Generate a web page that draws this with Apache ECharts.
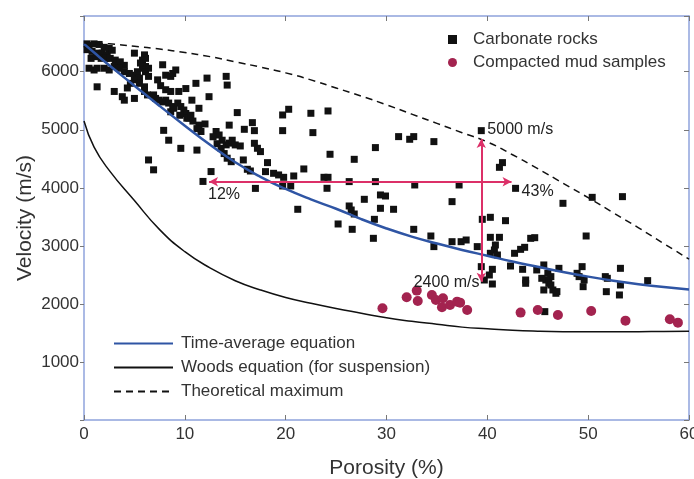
<!DOCTYPE html>
<html lang="en">
<head>
<meta charset="UTF-8">
<title>Velocity vs porosity</title>
<script src="https://cdn.jsdelivr.net/npm/echarts@6/dist/echarts.min.js"></script>
<style>html,body{margin:0;background:#fff;}</style>
</head>
<body>
<div id="main" style="width:694px;height:479px;"></div>
<script>
// carbonate rocks: [porosity %, velocity m/s]
var carbonateRocks = [
  [0.3,6480],[0.5,6450],[1.0,6480],[1.5,6470],[2.0,6420],[2.5,6400],[0.3,6380],[0.8,6350],
  [1.3,6320],[1.8,6320],[2.3,6290],[2.8,6370],[0.7,6230],[1.2,6260],[1.7,6230],[2.2,6230],
  [2.6,6230],[3.1,6200],[3.3,6150],[3.6,6170],[4.0,6110],[0.5,6060],[1.0,6030],[1.3,6060],
  [2.0,6060],[2.5,6030],[3.0,6090],[3.5,6060],[4.0,6000],[4.5,5970],[5.0,5940],[5.3,6000],
  [5.8,6060],[6.1,6090],[6.4,6060],[5.0,6320],[6.0,6290],[6.1,6230],[5.8,6200],[5.6,6150],
  [6.1,6000],[6.4,5920],[5.5,5890],[5.0,5860],[4.6,5800],[4.3,5720],[3.8,5570],[4.0,5510],
  [5.0,5540],[5.5,5800],[6.0,5740],[6.0,5660],[6.3,5600],[6.9,5600],[7.1,5540],[7.4,5510],
  [7.8,5480],[8.1,5510],[8.4,5460],[8.8,5400],[8.6,5310],[8.9,5370],[9.3,5460],[9.6,5400],
  [9.9,5340],[10.1,5280],[10.2,5200],[10.4,5200],[10.6,5250],[7.8,6120],[8.1,5940],[8.6,5920],
  [8.8,5970],[9.1,6030],[8.1,5690],[8.6,5660],[9.4,5660],[10.1,5710],[11.1,5800],[12.2,5890],
  [14.1,5920],[14.2,5770],[12.4,5570],[10.7,5510],[11.4,5370],[11.4,5080],[11.6,4970],[11.2,5020],
  [13.1,4970],[13.4,4910],[13.7,4820],[13.2,4760],[13.6,4680],[14.1,4740],[14.4,4770],[14.7,4820],
  [13.9,4590],[14.2,4510],[14.6,4450],[14.4,5080],[7.9,4990],[8.4,4820],[9.6,4680],[11.2,4650],
  [6.4,4480],[6.9,4310],[12.6,4280],[11.8,4110],[1.3,5740],[3.0,5660],[7.3,5860],[7.6,5760],
  [9.5,5250],[10.8,5150],[12.0,5100],[12.8,4880],
  [15.2,5296],[19.7,5255],[20.3,5353],[22.5,5284],[24.2,5324],[15.9,5008],[16.7,5123],[16.9,4985],
  [19.7,4985],[22.7,4951],[15.0,4739],[15.5,4721],[16.9,4767],[17.2,4681],[17.5,4624],[15.8,4480],
  [16.2,4319],[16.5,4290],[18.2,4434],[18.0,4279],[18.8,4250],[19.3,4222],[19.8,4181],[20.8,4204],
  [21.8,4325],[24.4,4578],[26.8,4491],[28.9,4693],[23.8,4181],[24.2,4181],[24.1,3992],[20.5,4032],
  [17.0,3990],[19.7,4032],[26.3,4107],[28.9,4107],[29.4,3877],[27.8,3802],[26.3,3687],[26.5,3618],
  [26.8,3549],[21.2,3630],[25.2,3377],[26.6,3285],[29.4,3647],[28.8,3457],[28.7,3130],
  [31.2,4882],[32.3,4836],[32.7,4882],[34.7,4796],[39.4,4985],[41.2,4353],[41.5,4434],[32.8,4049],
  [37.2,4049],[42.8,3991],[29.9,3859],[30.7,3630],[36.5,3762],[39.5,3457],[40.3,3492],[41.8,3434],
  [32.7,3285],[34.4,3170],[34.7,2987],[36.5,3072],[37.4,3072],[37.9,3101],[39.0,2987],[40.3,3147],
  [41.2,3147],[40.8,3015],[40.7,2929],[40.3,2872],[41.0,2843],[42.7,2872],[43.3,2940],[43.7,2975],
  [44.3,3130],[39.4,2642],[40.5,2596],[40.2,2498],[39.7,2412],[40.5,2343],[42.3,2653],[43.5,2596],
  [43.8,2412],[43.8,2355],[47.5,3733],[50.4,3836],[53.4,3848],[44.7,3141],[49.8,3170],[45.6,2671],
  [47.1,2613],[49.4,2642],[53.2,2613],[46.0,2527],[46.3,2470],[45.8,2412],[46.1,2355],[45.6,2240],
  [46.5,2240],[46.8,2183],[46.3,2326],[48.9,2527],[49.1,2470],[49.6,2412],[49.5,2297],[51.7,2470],
  [51.8,2211],[53.1,2154],[53.2,2326],[55.9,2401],[44.9,2585],[45.4,2441],[46.9,2212],[51.9,2441],
  [45.7,1867]
];

// compacted mud samples: [porosity %, velocity m/s]
var mudSamples = [
  [29.6,1924],[32.0,2114],[33.0,2229],[33.1,2051],[34.5,2154],[34.9,2068],[35.6,2097],[35.5,1942],
  [36.3,1982],[37.0,2039],[37.3,2022],[38.0,1896],[43.3,1850],[45.0,1896],[47.0,1810],[50.3,1879],
  [53.7,1712],[58.1,1735],[58.9,1677]
];

// model curves read at these porosities
var curvePorosity = [0,1,2.5,5,7.5,10,12.5,15,17.5,20,22.5,25,27.5,30,32.5,35,37.5,40,42.5,45,47.5,50,52.5,55,57.5,60];
var timeAverage = [6480,6330,6110,5760,5410,5070,4740,4440,4190,3980,3800,3640,3460,3300,3160,3040,2930,2830,2730,2640,2550,2470,2400,2340,2290,2250];
var woods = [5150,4700,4300,3780,3280,2900,2620,2400,2240,2110,2010,1920,1840,1760,1700,1650,1600,1570,1545,1530,1522,1520,1520,1522,1526,1530];
var theoreticalMax = [6500,6495,6480,6440,6390,6330,6260,6170,6080,5980,5860,5720,5580,5430,5270,5110,4950,4790,4570,4330,4080,3830,3570,3310,3040,2770];

// annotations
var annoPoints = [[12.3,3880],[43.4,3934],[40.0,4997],[32.7,2366]];
var annoText = ['12%','43%','5000 m/s','2400 m/s'];
var arrowH = [[12.4,4105],[42.4,4105]];
var arrowV = [[39.4,2380],[39.4,4840]];

var xTicks = [0,10,20,30,40,50,60];
var yTicks = [1000,2000,3000,4000,5000,6000];

function zip(xs, ys) {
    var out = [];
    for (var i = 0; i < xs.length; ++i) out.push([xs[i], ys[i]]);
    return out;
}

var font = 'Arial, "Liberation Sans", Helvetica, sans-serif';
var frame = '#8fa3dc';
var tickCol = '#777';

var myChart = echarts.init(document.getElementById('main'));
var option = {
    animation: false,
    textStyle: {fontFamily: font},
    grid: {left: 84, right: 5, top: 16, bottom: 59, containLabel: false, outerBoundsMode: 'none'},
    legend: [
        {
            orient: 'vertical', left: 443, top: 26, itemGap: 6,
            itemWidth: 9, itemHeight: 9,
            data: ['Carbonate rocks', 'Compacted mud samples'],
            textStyle: {fontSize: 17, color: '#333', fontFamily: font, padding: [0, 0, 0, 11]}
        },
        {
            orient: 'vertical', left: 108, top: 330, itemGap: 7,
            itemWidth: 59, itemHeight: 14,
            itemStyle: {opacity: 0},
            data: ['Time-average equation', 'Woods equation (for suspension)', 'Theoretical maximum'],
            textStyle: {fontSize: 17, color: '#333', fontFamily: font, padding: [0, 0, 0, 3]}
        }
    ],
    xAxis: [
        {
            type: 'value', min: 0, max: 60, interval: 10,
            name: 'Porosity (%)', nameLocation: 'middle', nameGap: 38, nameMoveOverlap: false,
            nameTextStyle: {fontSize: 21, color: '#333', fontFamily: font},
            axisLine: {onZero: false, lineStyle: {color: frame, width: 1.5}},
            axisTick: {length: -5, lineStyle: {color: tickCol}},
            axisLabel: {fontSize: 17, color: '#333', margin: 6,
                formatter: function (v) { return xTicks.indexOf(v) >= 0 ? String(v) : ''; }},
            splitLine: {show: false}
        },
        {
            type: 'value', position: 'top', min: 0, max: 60, interval: 10,
            axisLine: {onZero: false, lineStyle: {color: frame, width: 1.5}},
            axisTick: {length: -5, lineStyle: {color: tickCol}},
            axisLabel: {show: false}, splitLine: {show: false}
        }
    ],
    yAxis: [
        {
            type: 'value', min: 0, max: 6960, interval: 1000,
            name: 'Velocity (m/s)', nameLocation: 'middle', nameGap: 48, nameMoveOverlap: false,
            nameTextStyle: {fontSize: 21, color: '#333', fontFamily: font},
            axisLine: {onZero: false, lineStyle: {color: frame, width: 1.5}},
            axisTick: {length: 4, lineStyle: {color: tickCol}},
            axisLabel: {fontSize: 17, color: '#333', margin: 5,
                formatter: function (v) { return yTicks.indexOf(v) >= 0 ? String(v) : ''; }},
            splitLine: {show: false}
        },
        {
            type: 'value', position: 'right', min: 0, max: 6960, interval: 1000,
            axisLine: {onZero: false, lineStyle: {color: frame, width: 1.5}},
            axisTick: {length: -5, lineStyle: {color: tickCol}},
            axisLabel: {show: false}, splitLine: {show: false}
        }
    ],
    series: [
        {
            name: 'Carbonate rocks', type: 'scatter', symbol: 'rect', symbolSize: 7,
            itemStyle: {color: '#111', opacity: 1}, data: carbonateRocks, z: 2
        },
        {
            name: 'Compacted mud samples', type: 'scatter', symbol: 'circle', symbolSize: 10,
            itemStyle: {color: '#a3234f', opacity: 1}, data: mudSamples, z: 2
        },
        {
            name: 'Time-average equation', type: 'line', smooth: true, symbol: 'none',
            lineStyle: {color: '#2f55a4', width: 2.5}, itemStyle: {color: '#2f55a4'},
            data: zip(curvePorosity, timeAverage), z: 3
        },
        {
            name: 'Woods equation (for suspension)', type: 'line', smooth: true, symbol: 'none',
            lineStyle: {color: '#111', width: 1.5}, itemStyle: {color: '#111'},
            data: zip(curvePorosity, woods), z: 3
        },
        {
            name: 'Theoretical maximum', type: 'line', smooth: true, symbol: 'none',
            lineStyle: {color: '#111', width: 1.5, type: [7, 5]}, itemStyle: {color: '#111'},
            data: zip(curvePorosity, theoreticalMax), z: 3
        },
        {
            name: 'notes', type: 'scatter', symbolSize: 0, data: annoPoints, z: 4,
            itemStyle: {opacity: 1},
            label: {
                show: true, position: 'right', distance: 0, fontSize: 16, color: '#222',
                formatter: function (p) { return annoText[p.dataIndex]; }
            },
            markLine: {
                silent: true, symbol: ['arrow', 'arrow'], symbolSize: [7, 9],
                lineStyle: {color: '#dc3068', width: 2, type: 'solid'},
                label: {show: false},
                data: [
                    [{coord: arrowH[0]}, {coord: arrowH[1]}],
                    [{coord: arrowV[0]}, {coord: arrowV[1]}]
                ]
            }
        }
    ]
};
myChart.setOption(option);
</script>
</body>
</html>
